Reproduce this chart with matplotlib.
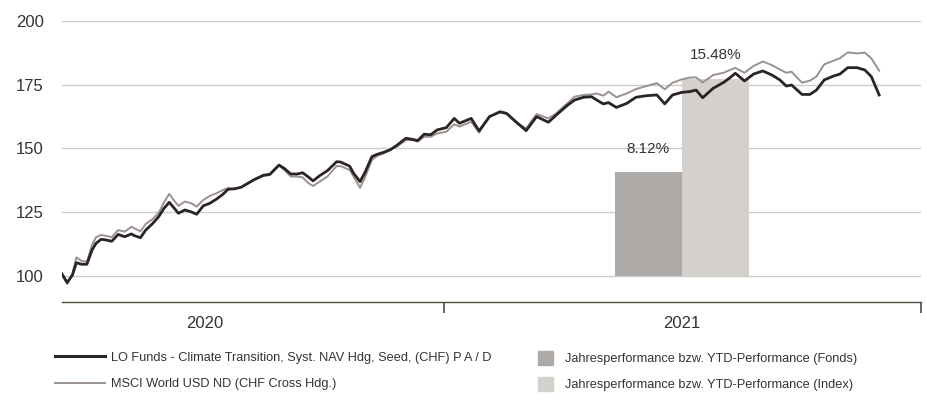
import numpy as np
import pandas as pd
import matplotlib; matplotlib.use("Agg")
import matplotlib.pyplot as plt
import matplotlib.dates as mdates
from matplotlib.lines import Line2D
from matplotlib.patches import Patch

plt.rcParams['font.family'] = ['Liberation Sans', 'DejaVu Sans']

# weekly-ish readings (indexed to 100)
dates = pd.to_datetime([
    "2020-03-15", "2020-03-19", "2020-03-23", "2020-03-26", "2020-03-30", "2020-04-03",
    "2020-04-07", "2020-04-10", "2020-04-14", "2020-04-18", "2020-04-22", "2020-04-27",
    "2020-05-02", "2020-05-07", "2020-05-09", "2020-05-14", "2020-05-18", "2020-05-23",
    "2020-05-28", "2020-06-01", "2020-06-05", "2020-06-09", "2020-06-12", "2020-06-17",
    "2020-06-22", "2020-06-26", "2020-07-01", "2020-07-06", "2020-07-11", "2020-07-16",
    "2020-07-20", "2020-07-25", "2020-07-30", "2020-08-04", "2020-08-09", "2020-08-16",
    "2020-08-21", "2020-08-25", "2020-08-28", "2020-09-01", "2020-09-06", "2020-09-11",
    "2020-09-15", "2020-09-19", "2020-09-23", "2020-09-28", "2020-10-04", "2020-10-11",
    "2020-10-14", "2020-10-21", "2020-10-24", "2020-10-29", "2020-11-02", "2020-11-07",
    "2020-11-11", "2020-11-16", "2020-11-21", "2020-11-26", "2020-12-03", "2020-12-08",
    "2020-12-12", "2020-12-17", "2020-12-22", "2020-12-27", "2021-01-03", "2021-01-09",
    "2021-01-13", "2021-01-22", "2021-01-28", "2021-02-05", "2021-02-13", "2021-02-18",
    "2021-02-26", "2021-03-05", "2021-03-13", "2021-03-22", "2021-03-28", "2021-04-05",
    "2021-04-11", "2021-04-18", "2021-04-24", "2021-04-28", "2021-05-03", "2021-05-07",
    "2021-05-13", "2021-05-21", "2021-05-28", "2021-06-05", "2021-06-13", "2021-06-19",
    "2021-06-25", "2021-07-02", "2021-07-08", "2021-07-13", "2021-07-18", "2021-07-26",
    "2021-08-03", "2021-08-08", "2021-08-12", "2021-08-19", "2021-08-26", "2021-09-02",
    "2021-09-09", "2021-09-15", "2021-09-20", "2021-09-24", "2021-10-02", "2021-10-08",
    "2021-10-13", "2021-10-19", "2021-10-26", "2021-10-31", "2021-11-06", "2021-11-13",
    "2021-11-19", "2021-11-24", "2021-11-30",
])

fund = [
    100.8, 97.4, 100.4, 105.2, 104.6, 104.6, 110.2, 112.8, 114.4, 114.1, 113.6, 116.3,
    115.4, 116.5, 115.9, 115.0, 118.0, 120.4, 123.3, 126.5, 128.9, 126.5, 124.6, 125.9,
    125.1, 124.2, 127.5, 128.5, 130.1, 132.0, 134.0, 134.2, 134.8, 136.3, 137.8, 139.5,
    139.9, 142.0, 143.5, 142.2, 140.0, 140.0, 140.5, 139.0, 137.3, 139.3, 141.3, 144.8,
    144.7, 143.1, 140.3, 137.0, 140.9, 146.8, 147.7, 148.5, 149.5, 151.2, 154.0, 153.6,
    153.1, 155.6, 155.4, 157.3, 158.2, 161.8, 159.9, 161.8, 156.9, 162.5, 164.4, 163.8,
    160.1, 157.0, 162.5, 160.3, 163.1, 166.7, 169.0, 170.1, 170.3, 169.0, 167.5, 168.0,
    166.1, 167.7, 170.1, 170.7, 171.0, 167.5, 171.0, 172.0, 172.3, 172.9, 169.9, 173.6,
    175.9, 177.8, 179.5, 176.5, 179.2, 180.4, 178.8, 176.9, 174.5, 174.9, 171.2, 171.2,
    172.9, 176.9, 178.4, 179.2, 181.7, 181.7, 180.8, 178.2, 171.0,
]

index = [
    100.4, 96.9, 101.0, 107.3, 105.9, 105.6, 112.2, 115.2, 116.1, 115.7, 115.2, 118.0,
    117.4, 119.3, 118.8, 117.5, 120.4, 122.2, 124.8, 128.8, 132.2, 129.4, 127.5, 129.2,
    128.5, 127.2, 129.8, 131.4, 132.4, 133.7, 134.5, 134.1, 134.8, 136.2, 137.6, 139.2,
    139.6, 141.7, 143.3, 141.6, 139.0, 139.0, 138.7, 136.6, 135.3, 137.0, 139.0, 143.1,
    143.1, 141.6, 139.0, 134.6, 139.0, 145.5, 147.1, 148.1, 149.4, 150.7, 153.3, 153.3,
    152.7, 154.6, 154.6, 155.9, 156.6, 159.5, 158.6, 160.5, 156.2, 162.7, 164.1, 163.5,
    159.9, 157.9, 163.5, 161.8, 163.8, 167.5, 170.3, 171.0, 171.2, 171.6, 170.7, 172.3,
    170.1, 171.6, 173.3, 174.5, 175.6, 173.2, 175.8, 177.1, 177.8, 177.9, 175.9, 178.8,
    179.7, 180.8, 181.6, 179.7, 182.4, 184.1, 182.7, 181.0, 179.7, 180.1, 175.8, 176.6,
    178.2, 183.0, 184.4, 185.4, 187.7, 187.3, 187.6, 185.4, 180.5,
]

# YTD performance 2021 (%)
bar_labels = ["8.12%", "15.48%"]
bar_values = [8.12, 15.48]

fund_name = "LO Funds - Climate Transition, Syst. NAV Hdg, Seed, (CHF) P A / D"
index_name = "MSCI World USD ND (CHF Cross Hdg.)"
bar_names = ["Jahresperformance bzw. YTD-Performance (Fonds)",
             "Jahresperformance bzw. YTD-Performance (Index)"]

C_FUND = "#2b2424"
C_INDEX = "#9b918c"
C_BARS = ["#aeaaa8", "#d4d0cc"]
TXT = "#333333"
AXC = "#4b4b3c"

fig = plt.figure(figsize=(9.27, 4.0), dpi=100)
ax = fig.add_axes([62/927, 98/400, 859/927, 281/400])

# bars: 1 % = 5 index points, sitting on the 100 line
scale = 5.0
mid = pd.Timestamp("2021-07-02")
bw = pd.Timedelta(days=51.3)
bx = [mid - bw/2, mid + bw/2]
ax.bar(bx, [v*scale for v in bar_values], width=bw, bottom=100, color=C_BARS, zorder=1)
for x, v, lab in zip(bx, bar_values, bar_labels):
    ax.annotate(lab, (x, 100 + v*scale), xytext=(0, 17), textcoords="offset points",
                ha="center", va="center", fontsize=11, color=TXT)

ax.plot(dates, index, color=C_INDEX, lw=1.4, zorder=2)
ax.plot(dates, fund, color=C_FUND, lw=2.0, zorder=3)

ax.set_ylim(89.8, 200)
ax.set_xlim(pd.Timestamp("2020-03-15"), pd.Timestamp("2022-01-01"))
ax.set_yticks([100, 125, 150, 175, 200])
ax.grid(axis="y", color="#cccccc", lw=1.0)
ax.set_axisbelow(True)
ax.tick_params(axis="y", length=0, pad=13, labelsize=12, labelcolor=TXT)

ax.xaxis.set_major_locator(mdates.YearLocator())
ax.xaxis.set_major_formatter(plt.NullFormatter())
ax.set_xticks([pd.Timestamp("2020-07-02"), pd.Timestamp("2021-07-02")], minor=True)
ax.set_xticklabels(["2020", "2021"], minor=True)
ax.tick_params(axis="x", which="major", length=8, width=1.2, color=AXC, direction="out")
ax.tick_params(axis="x", which="minor", length=0, pad=10, labelsize=12, labelcolor=TXT)

for s in ["top", "right", "left"]:
    ax.spines[s].set_visible(False)
ax.spines["bottom"].set_color(AXC)
ax.spines["bottom"].set_linewidth(1.0)

h1 = [Line2D([], [], color=C_FUND, lw=2.2), Line2D([], [], color=C_INDEX, lw=1.4)]
fig.legend(h1, [fund_name, index_name], loc="center left", bbox_to_anchor=(55/927, 0.0725),
           frameon=False, fontsize=9.2, handlelength=3.9, handletextpad=0.5,
           labelspacing=1.15, borderpad=0, borderaxespad=0, labelcolor=TXT)
h2 = [Patch(color=c) for c in C_BARS]
fig.legend(h2, bar_names, loc="center left", bbox_to_anchor=(538/927, 0.0725),
           frameon=False, fontsize=9.2, handlelength=1.2, handleheight=1.3, handletextpad=0.9,
           labelspacing=0.9, borderpad=0, borderaxespad=0, labelcolor=TXT)

fig.savefig("out.png", dpi=100)
